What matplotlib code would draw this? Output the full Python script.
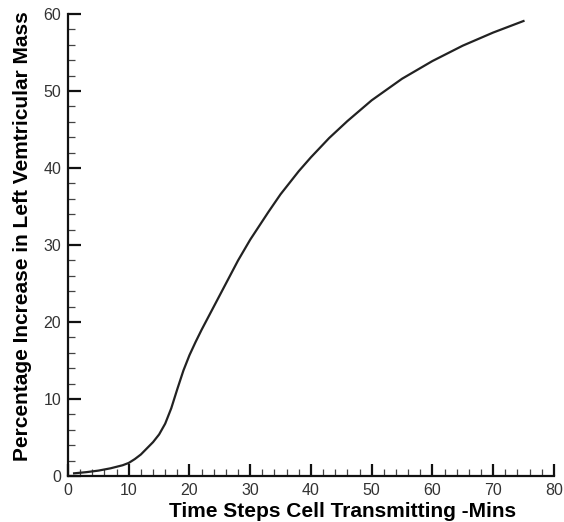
import numpy as np
import matplotlib
matplotlib.use('Agg')
import matplotlib.pyplot as plt
from matplotlib.ticker import MultipleLocator

# values
time_mins = [1, 3, 5, 7, 9, 10, 11, 12, 13, 14, 15, 16, 17, 18, 19, 20, 21, 22,
             24, 26, 28, 30, 33, 35, 38, 40, 43, 46, 50, 55, 60, 65, 70, 75]
mass_pct = [0.35, 0.5, 0.7, 1.0, 1.4, 1.7, 2.2, 2.8, 3.6, 4.4, 5.4, 6.8, 8.8, 11.3, 13.7, 15.7, 17.4, 19.0,
            22.0, 25.0, 28.0, 30.7, 34.3, 36.6, 39.6, 41.4, 43.9, 46.1, 48.8, 51.6, 53.9, 55.9, 57.6, 59.1]

x_ticks = [0, 10, 20, 30, 40, 50, 60, 70, 80]
y_ticks = [0, 10, 20, 30, 40, 50, 60]

plt.rcParams['font.family'] = ['Liberation Sans', 'DejaVu Sans']

fig = plt.figure(figsize=(5.64, 5.22), dpi=100)
ax = fig.add_axes([0.1206, 0.0881, 0.8614, 0.8849])

ax.plot(time_mins, mass_pct, color='#222222', lw=1.6, solid_joinstyle='round')

ax.set_xlim(0, 80)
ax.set_ylim(0, 60)
ax.set_xticks(x_ticks)
ax.set_yticks(y_ticks)
ax.xaxis.set_minor_locator(MultipleLocator(2))
ax.yaxis.set_minor_locator(MultipleLocator(2))

ax.spines['top'].set_visible(False)
ax.spines['right'].set_visible(False)
for s in ('left', 'bottom'):
    ax.spines[s].set_linewidth(1.6)
    ax.spines[s].set_color('#111111')

ax.tick_params(which='major', direction='in', length=9, width=1.6,
               labelsize=11.5, labelcolor='#333333', pad=5, color='#111111')
ax.tick_params(which='minor', direction='in', length=5, width=0.9, color='#444444')

ax.set_xlabel('Time Steps Cell Transmitting -Mins', fontsize=15,
              fontweight='bold', labelpad=3, x=0.566)
ax.set_ylabel('Percentage Increase in Left Vemtricular Mass', fontsize=15,
              fontweight='bold', labelpad=8, y=0.52)

fig.savefig('out.png', dpi=100)
